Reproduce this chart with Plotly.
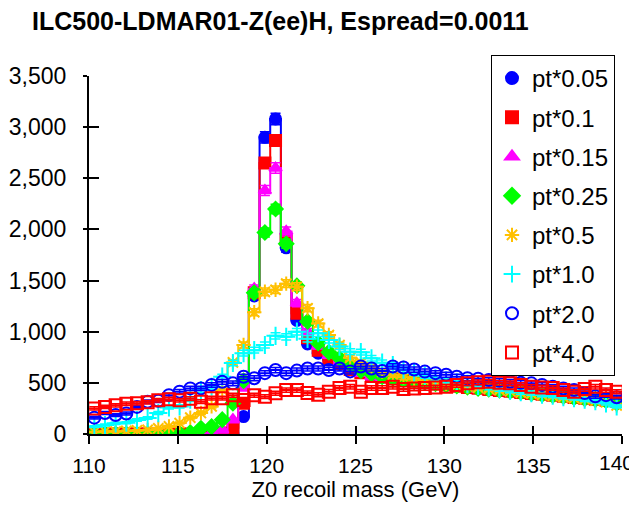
import plotly.graph_objects as go

# ---- data -------------------------------------------------------------
x_min, x_max, bin_width = 110.0, 140.0, 0.6
n_bins = 50
bin_edges = [round(x_min + bin_width * i, 2) for i in range(n_bins + 1)]
bin_centres = [round(x_min + bin_width * (i + 0.5), 2) for i in range(n_bins)]

labels = ["pt*0.05", "pt*0.1", "pt*0.15", "pt*0.25", "pt*0.5", "pt*1.0", "pt*2.0", "pt*4.0"]

pt_0_05 = [0, 0, 0, 0, 0, 0, 0, 0, 0, 0, 0, 0, 0, 5, 170, 1350, 2900, 3080, 1820, 1110,
           880, 790, 720, 680, 640, 610, 580, 560, 545, 530, 520, 505, 495, 480, 470, 460,
           450, 440, 430, 420, 415, 400, 395, 385, 375, 365, 355, 345, 335, 320]
pt_0_1 = [0, 0, 0, 0, 0, 0, 0, 0, 0, 0, 0, 0, 10, 60, 300, 1380, 2650, 2870, 1900, 1180,
          940, 820, 740, 690, 630, 600, 575, 555, 540, 530, 515, 500, 490, 478, 468, 455,
          447, 435, 425, 418, 405, 395, 388, 378, 368, 358, 350, 340, 330, 318]
pt_0_15 = [0, 0, 0, 0, 0, 0, 0, 0, 0, 0, 0, 10, 40, 140, 450, 1420, 2380, 2600, 1980, 1280,
           1000, 860, 770, 700, 650, 595, 560, 545, 530, 525, 505, 498, 485, 470, 465, 450,
           440, 432, 420, 410, 402, 392, 385, 372, 362, 355, 345, 335, 322, 310]
pt_0_25 = [0, 0, 0, 0, 0, 0, 0, 0, 5, 15, 55, 72, 140, 300, 520, 1380, 1970, 2200, 1860, 1450,
           1100, 890, 800, 740, 680, 620, 590, 560, 545, 530, 520, 505, 492, 482, 470, 458,
           446, 438, 428, 418, 408, 396, 386, 376, 366, 356, 346, 338, 325, 300]
pt_0_5 = [20, 25, 25, 30, 35, 40, 55, 75, 107, 160, 205, 270, 430, 700, 870, 1190, 1390, 1410, 1470, 1440,
          1230, 1080, 968, 870, 745, 700, 650, 610, 580, 555, 540, 520, 505, 490, 478, 465,
          452, 440, 428, 418, 405, 395, 382, 372, 360, 350, 340, 325, 310, 280]
pt_1_0 = [72, 88, 104, 110, 137, 156, 205, 260, 270, 335, 430, 462, 560, 694, 790, 820, 870, 960, 950, 1000,
          930, 985, 920, 855, 805, 800, 740, 697, 674, 630, 600, 570, 545, 525, 505, 490,
          470, 455, 440, 425, 410, 400, 385, 375, 360, 350, 335, 320, 300, 270]
pt_2_0 = [160, 205, 185, 200, 265, 315, 325, 380, 414, 446, 446, 480, 510, 495, 560, 545, 595, 625, 595, 620,
          640, 640, 625, 640, 612, 660, 640, 615, 660, 650, 630, 610, 595, 580, 560, 545,
          540, 528, 520, 511, 500, 495, 480, 462, 445, 430, 400, 368, 380, 360]
pt_4_0 = [250, 265, 280, 295, 300, 310, 330, 340, 330, 345, 316, 350, 350, 380, 332, 380, 365, 398, 430, 430,
          400, 383, 414, 450, 462, 414, 450, 450, 462, 440, 445, 450, 455, 462, 480, 495,
          505, 511, 500, 495, 480, 462, 455, 450, 430, 413, 440, 462, 430, 413]

series = [pt_0_05, pt_0_1, pt_0_15, pt_0_25, pt_0_5, pt_1_0, pt_2_0, pt_4_0]

y_ticks = [0, 500, 1000, 1500, 2000, 2500, 3000, 3500]
x_ticks = [110, 115, 120, 125, 130, 135, 140]
# the last label sits at the page edge; it is drawn as a slightly shifted annotation
x_tick_text = ["110", "115", "120", "125", "130", "135", ""]
last_x_label = "140"

# ---- styles -----------------------------------------------------------
colors = ["#0000FF", "#FF0000", "#FF00FF", "#00FF00", "#FFC000", "#00FFFF", "#0000FF", "#FF0000"]
symbols = ["circle", "square", "triangle-up", "diamond", "asterisk-open", "cross-thin-open",
           "circle-open", "square-open"]
sizes = [11, 11, 11, 11, 12, 13, 12, 12]

fig = go.Figure()
for k, (lab, vals) in enumerate(zip(labels, series)):
    c = colors[k]
    fig.add_trace(go.Scatter(
        x=bin_edges, y=vals + [vals[-1]], mode="lines", line=dict(color=c, width=2, shape="hv"),
        showlegend=False, hoverinfo="skip"))
    fig.add_trace(go.Scatter(
        x=bin_centres, y=vals, mode="markers", name=lab, legendgroup=lab,
        marker=dict(symbol=symbols[k], size=sizes[k], color=c,
                    line=dict(color=c, width=2)),
        error_y=dict(type="sqrt", color=c, thickness=1.5, width=5)))

# empty helper trace so that overlay axes (inside tick halves) are drawn
fig.add_trace(go.Scatter(x=[], y=[], xaxis="x2", yaxis="y2", showlegend=False))

font_family = "Liberation Sans, Arial, Helvetica, sans-serif"
fig.add_annotation(text=last_x_label, x=x_ticks[-1], xref="x", y=0, yref="paper",
                   xanchor="center", yanchor="top", xshift=-6, yshift=-15, showarrow=False,
                   font=dict(size=21, family=font_family, color="black"))

fig.update_layout(
    width=637, height=509,
    margin=dict(l=81, r=23, t=68, b=83, autoexpand=False),
    paper_bgcolor="white", plot_bgcolor="white",
    font=dict(family=font_family, color="black", size=22),
    title=dict(text="<b>ILC500-LDMAR01-Z(ee)H, Espread=0.0011</b>",
               x=24 / 637, xanchor="left", xref="container",
               y=1 - 13 / 509, yanchor="middle", yref="container",
               font=dict(size=25, family=font_family)),
    xaxis=dict(range=[x_min, x_max], tickvals=x_ticks, ticktext=x_tick_text,
               ticks="outside", ticklen=8, tickwidth=2,
               tickcolor="black", showline=True, linewidth=2, linecolor="black", automargin=False,
               showgrid=False, zeroline=False, tickfont=dict(size=21), ticklabelstandoff=4,
               title=dict(text="Z0 recoil mass (GeV)", font=dict(size=22), standoff=4)),
    yaxis=dict(range=[0, 3500], tickvals=y_ticks, tickformat=",d", ticks="outside", ticklen=4,
               tickwidth=2, tickcolor="black", showline=True, linewidth=2, linecolor="black",
               automargin=False,
               showgrid=False, zeroline=False, tickfont=dict(size=23), ticklabelstandoff=12),
    xaxis2=dict(range=[x_min, x_max], overlaying="x", anchor="y2", tickvals=x_ticks,
                ticks="inside", ticklen=8, tickwidth=2, tickcolor="black", automargin=False,
                showticklabels=False, showgrid=False, zeroline=False, showline=False),
    yaxis2=dict(range=[0, 3500], overlaying="y", anchor="x2", side="left", tickvals=y_ticks,
                ticks="inside", ticklen=10, tickwidth=2, tickcolor="black", automargin=False,
                showticklabels=False, showgrid=False, zeroline=False, showline=False),
    legend=dict(x=(491 - 89) / 533, xanchor="left", y=(434 - 55) / 358, yanchor="top",
                bgcolor="white", bordercolor="black", borderwidth=1,
                font=dict(size=24, family=font_family),
                traceorder="grouped", tracegroupgap=5, itemsizing="constant",
                maxheight=400),
)

fig.write_html("out.html")
